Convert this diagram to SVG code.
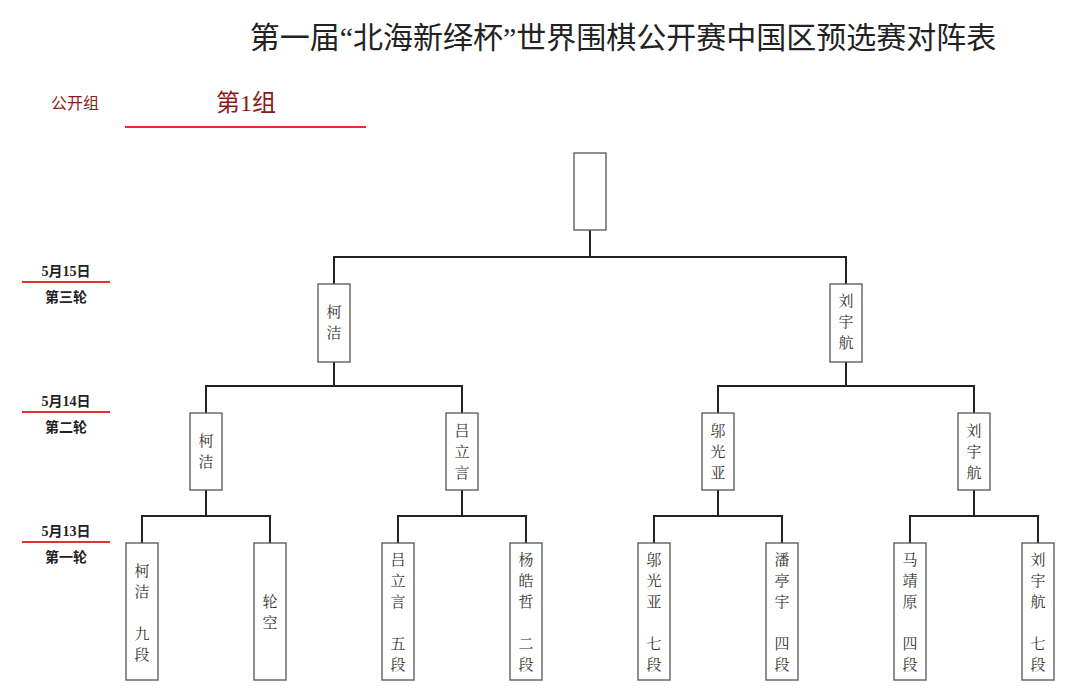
<svg xmlns="http://www.w3.org/2000/svg" width="1080" height="699" viewBox="0 0 1080 699">
<style>
.bx{fill:#fff;stroke:#555;stroke-width:1.3}
.c{fill:none;stroke:#222;stroke-width:2}
.t{font-family:"Noto Serif CJK SC","Liberation Serif","Noto Sans CJK SC",serif;font-size:15px;fill:#333;text-anchor:middle}
.d{font-family:"Liberation Serif","Noto Sans CJK SC",serif;font-size:14px;font-weight:bold;fill:#222;text-anchor:middle}
.r{stroke:#e53030;stroke-width:2}
</style>
<rect width="1080" height="699" fill="#fff"/>
<text x="623" y="48" font-family="Liberation Serif,Noto Sans CJK SC,serif" font-size="30" fill="#222" text-anchor="middle">第一届“北海新绎杯”世界围棋公开赛中国区预选赛对阵表</text>
<text x="75" y="109" font-family="Liberation Serif,Noto Sans CJK SC,serif" font-size="16" fill="#8b1a1a" text-anchor="middle">公开组</text>
<text x="246" y="111" font-family="Liberation Serif,Noto Sans CJK SC,serif" font-size="24" fill="#8b1a1a" text-anchor="middle">第1组</text>
<line class="r" x1="125" y1="127" x2="366" y2="127"/>
<g id="dates">
<text class="d" x="66" y="276">5月15日</text><line class="r" x1="22" y1="282" x2="110" y2="282"/><text class="d" x="66" y="302">第三轮</text>
<text class="d" x="66" y="406">5月14日</text><line class="r" x1="22" y1="412" x2="110" y2="412"/><text class="d" x="66" y="432">第二轮</text>
<text class="d" x="66" y="536">5月13日</text><line class="r" x1="22" y1="542" x2="110" y2="542"/><text class="d" x="66" y="562">第一轮</text>
</g>
<g id="connectors">
<path class="c" d="M590 230V257M334 284V257H846V284"/>
<path class="c" d="M334 362V386M206 413V386H462V413M846 362V386M718 413V386H974V413"/>
<path class="c" d="M206 490V516M142 543V516H270V543M462 490V516M398 543V516H526V543M718 490V516M654 543V516H782V543M974 490V516M910 543V516H1038V543"/>
</g>
<g id="final"><rect class="bx" x="574" y="153" width="32" height="77"/></g>
<g id="r3a"><rect class="bx" x="318" y="284" width="32" height="78"/><text class="t" x="334" y="317">柯</text><text class="t" x="334" y="338">洁</text></g>
<g id="r3b"><rect class="bx" x="830" y="284" width="32" height="78"/><text class="t" x="846" y="306">刘</text><text class="t" x="846" y="327">宇</text><text class="t" x="846" y="348">航</text></g>
<g id="r2a"><rect class="bx" x="190" y="413" width="32" height="77"/><text class="t" x="206" y="446">柯</text><text class="t" x="206" y="467">洁</text></g>
<g id="r2b"><rect class="bx" x="446" y="413" width="32" height="77"/><text class="t" x="462" y="436">吕</text><text class="t" x="462" y="457">立</text><text class="t" x="462" y="478">言</text></g>
<g id="r2c"><rect class="bx" x="702" y="413" width="32" height="77"/><text class="t" x="718" y="436">邬</text><text class="t" x="718" y="457">光</text><text class="t" x="718" y="478">亚</text></g>
<g id="r2d"><rect class="bx" x="958" y="413" width="32" height="77"/><text class="t" x="974" y="436">刘</text><text class="t" x="974" y="457">宇</text><text class="t" x="974" y="478">航</text></g>
<g id="p1"><rect class="bx" x="126" y="543" width="32" height="137"/><text class="t" x="142" y="576">柯</text><text class="t" x="142" y="597">洁</text><text class="t" x="142" y="639">九</text><text class="t" x="142" y="660">段</text></g>
<g id="p2"><rect class="bx" x="254" y="543" width="32" height="137"/><text class="t" x="270" y="607">轮</text><text class="t" x="270" y="628">空</text></g>
<g id="p3"><rect class="bx" x="382" y="543" width="32" height="137"/><text class="t" x="398" y="565">吕</text><text class="t" x="398" y="586">立</text><text class="t" x="398" y="607">言</text><text class="t" x="398" y="649">五</text><text class="t" x="398" y="670">段</text></g>
<g id="p4"><rect class="bx" x="510" y="543" width="32" height="137"/><text class="t" x="526" y="565">杨</text><text class="t" x="526" y="586">皓</text><text class="t" x="526" y="607">哲</text><text class="t" x="526" y="649">二</text><text class="t" x="526" y="670">段</text></g>
<g id="p5"><rect class="bx" x="638" y="543" width="32" height="137"/><text class="t" x="654" y="565">邬</text><text class="t" x="654" y="586">光</text><text class="t" x="654" y="607">亚</text><text class="t" x="654" y="649">七</text><text class="t" x="654" y="670">段</text></g>
<g id="p6"><rect class="bx" x="766" y="543" width="32" height="137"/><text class="t" x="782" y="565">潘</text><text class="t" x="782" y="586">亭</text><text class="t" x="782" y="607">宇</text><text class="t" x="782" y="649">四</text><text class="t" x="782" y="670">段</text></g>
<g id="p7"><rect class="bx" x="894" y="543" width="32" height="137"/><text class="t" x="910" y="565">马</text><text class="t" x="910" y="586">靖</text><text class="t" x="910" y="607">原</text><text class="t" x="910" y="649">四</text><text class="t" x="910" y="670">段</text></g>
<g id="p8"><rect class="bx" x="1022" y="543" width="32" height="137"/><text class="t" x="1038" y="565">刘</text><text class="t" x="1038" y="586">宇</text><text class="t" x="1038" y="607">航</text><text class="t" x="1038" y="649">七</text><text class="t" x="1038" y="670">段</text></g>
</svg>
